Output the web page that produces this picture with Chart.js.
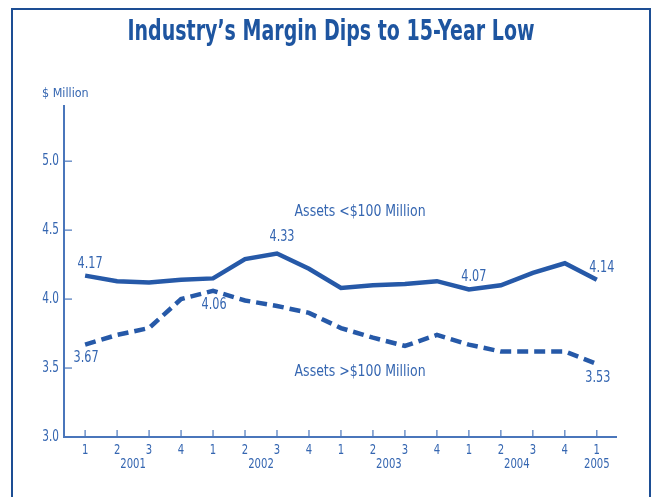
<!DOCTYPE html>
<html>
<head>
<meta charset="utf-8">
<script src="https://cdn.jsdelivr.net/npm/chart.js@4.4.1/dist/chart.umd.min.js"></script>
<style>
  html, body { margin: 0; padding: 0; background: #fff; }
  #wrap { position: relative; width: 652px; height: 497px; }
</style>
</head>
<body>
<div id="wrap"><canvas id="chart-margin" width="652" height="497"></canvas></div>
<script>
// datos
const quarters = ['1', '2', '3', '4', '1', '2', '3', '4', '1', '2', '3', '4', '1', '2', '3', '4', '1'];
const years = ['2001', '2002', '2003', '2004', '2005'];
const yearCenters = [1.5, 5.5, 9.5, 13.5, 16];
const smallAssets = [4.17, 4.13, 4.12, 4.14, 4.15, 4.29, 4.33, 4.22, 4.08, 4.10, 4.11, 4.13, 4.07, 4.10, 4.19, 4.26, 4.14];
const largeAssets = [3.67, 3.74, 3.79, 4.00, 4.06, 3.99, 3.95, 3.90, 3.79, 3.72, 3.66, 3.74, 3.67, 3.62, 3.62, 3.62, 3.53];
const yTicks = [3.0, 3.5, 4.0, 4.5, 5.0];
const seriesNames = ['Assets <$100 Million', 'Assets >$100 Million'];

// etiquetas de valor (indice + lado)
const smallLabels = [[0, 'above'], [6, 'high'], [12, 'above'], [16, 'above']];
const largeLabels = [[0, 'below'], [4, 'below'], [16, 'below']];

const FONT = '"DejaVu Sans", sans-serif';
const BLUE = '#2659a8';
const TEXT = '#3566b1';
const FRAME = '#1d4e94';
const AXIS = '#4a76bb';

const toPoints = arr => arr.map((v, i) => ({ x: i, y: v }));

// texto estrechado (la fuente original es condensada)
function narrowText(ctx, txt, x, y, font, sx, align) {
    ctx.save();
    ctx.font = font;
    ctx.translate(x, y);
    ctx.scale(sx, 1);
    ctx.textAlign = align || 'center';
    ctx.textBaseline = 'middle';
    ctx.fillText(txt, 0, 0);
    ctx.restore();
}

const decor = {
    id: 'decor',
    afterDraw(chart) {
        const { ctx, scales: { x, y }, chartArea } = chart;
        ctx.save();
        // marco
        ctx.strokeStyle = FRAME;
        ctx.lineWidth = 2;
        ctx.beginPath();
        ctx.moveTo(12, 497);
        ctx.lineTo(12, 9);
        ctx.lineTo(650, 9);
        ctx.lineTo(650, 497);
        ctx.stroke();

        // titulo, ajustado al ancho del original
        ctx.fillStyle = '#1e55a0';
        const title = 'Industry\u2019s Margin Dips to 15-Year Low';
        ctx.font = 'bold 28px ' + FONT;
        const tw = ctx.measureText(title).width;
        narrowText(ctx, title, 331, 33, ctx.font, 407 / tw);

        ctx.fillStyle = TEXT;
        // titulo eje y
        narrowText(ctx, '$ Million', 42, 94, '13px ' + FONT, 0.86, 'left');

        // marcas hacia dentro
        ctx.strokeStyle = AXIS;
        ctx.lineWidth = 1.2;
        x.ticks.forEach(t => {
            const px = x.getPixelForValue(t.value);
            ctx.beginPath();
            ctx.moveTo(px, chartArea.bottom);
            ctx.lineTo(px, chartArea.bottom - 7);
            ctx.stroke();
            narrowText(ctx, quarters[t.value], px, 450, '14px ' + FONT, 0.72);
        });
        y.ticks.forEach(t => {
            const py = y.getPixelForValue(t.value);
            ctx.beginPath();
            ctx.moveTo(chartArea.left, py);
            ctx.lineTo(chartArea.left + 8, py);
            ctx.stroke();
            narrowText(ctx, t.value.toFixed(1), chartArea.left - 5, py, '15px ' + FONT, 0.7, 'right');
        });

        // anos
        years.forEach((yr, i) => {
            narrowText(ctx, yr, x.getPixelForValue(yearCenters[i]), 464, '14px ' + FONT, 0.72);
        });

        // nombres de series
        narrowText(ctx, seriesNames[0], x.getPixelForValue(6.55), y.getPixelForValue(4.63), '16px ' + FONT, 0.78, 'left');
        narrowText(ctx, seriesNames[1], x.getPixelForValue(6.55), y.getPixelForValue(3.47), '16px ' + FONT, 0.78, 'left');

        // valores
        const drawVal = (arr, idx, side) => {
            const px = x.getPixelForValue(idx);
            const py = y.getPixelForValue(arr[idx]);
            let dx = 5, dy = -12;
            if (side === 'high') dy = -16;
            if (side === 'below') { dx = 1; dy = 14; }
            narrowText(ctx, arr[idx].toFixed(2), px + dx, py + dy, '15px ' + FONT, 0.75);
        };
        smallLabels.forEach(([i, s]) => drawVal(smallAssets, i, s));
        largeLabels.forEach(([i, s]) => drawVal(largeAssets, i, s));
        ctx.restore();
    }
};

new Chart(document.getElementById('chart-margin').getContext('2d'), {
    type: 'line',
    data: {
        datasets: [{
            label: seriesNames[0],
            data: toPoints(smallAssets),
            borderColor: BLUE,
            borderWidth: 4.5,
            pointRadius: 0,
            tension: 0,
            fill: false,
        }, {
            label: seriesNames[1],
            data: toPoints(largeAssets),
            borderColor: BLUE,
            borderWidth: 4.5,
            borderDash: [11, 6],
            pointRadius: 0,
            tension: 0,
            fill: false,
        }],
    },
    options: {
        responsive: false,
        animation: false,
        layout: { padding: { left: 0, right: 36, top: 106, bottom: 0 } },
        scales: {
            x: {
                type: 'linear',
                min: -0.66,
                max: 16.6,
                afterBuildTicks: s => { s.ticks = quarters.map((q, i) => ({ value: i })); },
                afterFit: s => { s.height = 60; },
                grid: { display: false, drawTicks: false },
                border: { display: true, color: AXIS, width: 2 },
                ticks: { display: false },
            },
            y: {
                min: 3,
                max: 5.4,
                afterBuildTicks: s => { s.ticks = yTicks.map(v => ({ value: v })); },
                afterFit: s => { s.width = 64; },
                grid: { display: false, drawTicks: false },
                border: { display: true, color: AXIS, width: 2 },
                ticks: { display: false },
            },
        },
        plugins: {
            legend: { display: false },
            tooltip: { enabled: false },
        },
    },
    plugins: [decor],
});
</script>
</body>
</html>
